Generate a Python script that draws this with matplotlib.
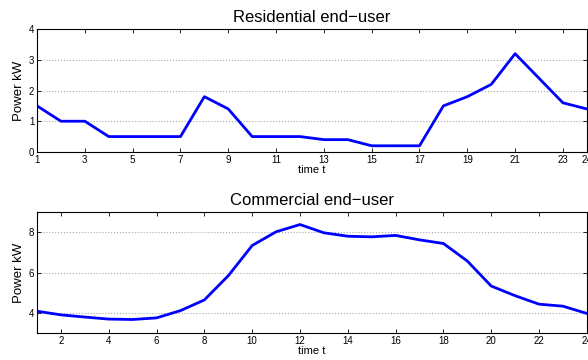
import matplotlib
matplotlib.use("Agg")
import matplotlib.pyplot as plt

hours = list(range(1, 25))
residential = [1.5, 1.0, 1.0, 0.5, 0.5, 0.5, 0.5, 1.8, 1.4, 0.5, 0.5, 0.5,
               0.4, 0.4, 0.2, 0.2, 0.2, 1.5, 1.8, 2.2, 3.2, 2.4, 1.6, 1.4]
commercial = [4.08, 3.9, 3.79, 3.69, 3.67, 3.75, 4.11, 4.64, 5.84, 7.34, 8.02, 8.38,
              7.97, 7.8, 7.77, 7.84, 7.62, 7.44, 6.57, 5.33, 4.85, 4.43, 4.33, 3.97]

res_xticks = [1, 3, 5, 7, 9, 11, 13, 15, 17, 19, 21, 23, 24]
res_yticks = [0, 1, 2, 3, 4]
com_xticks = list(range(2, 25, 2))
com_yticks = [4, 6, 8]

plt.rcParams['font.family'] = ['Liberation Sans', 'DejaVu Sans']

fig = plt.figure(figsize=(5.88, 3.6), dpi=100)
ax1 = fig.add_axes([0.063, 0.578, 0.935, 0.341])
ax2 = fig.add_axes([0.063, 0.075, 0.935, 0.336])

def style(ax, data, xt, yt, xlim, ylim, title):
    ax.plot(hours, data, color='#0000ff', lw=2)
    ax.set_xlim(*xlim)
    ax.set_ylim(*ylim)
    ax.set_xticks(xt)
    ax.set_yticks(yt)
    ax.tick_params(direction='in', top=True, right=True, labelsize=7, length=3, width=0.6, pad=2)
    ax.grid(axis='y', linestyle=':', color='#aaaaaa', lw=0.8)
    for s in ax.spines.values():
        s.set_linewidth(0.8)
    ax.set_title(title, fontsize=12, pad=5)
    ax.set_xlabel('time t', fontsize=8, labelpad=0)
    ax.set_ylabel('Power kW', fontsize=9.5, labelpad=3)

style(ax1, residential, res_xticks, res_yticks, (1, 24), (0, 4), 'Residential end\u2212user')
style(ax2, commercial, com_xticks, com_yticks, (1, 24), (3, 9), 'Commercial end\u2212user')

fig.savefig('out.png', dpi=100)
